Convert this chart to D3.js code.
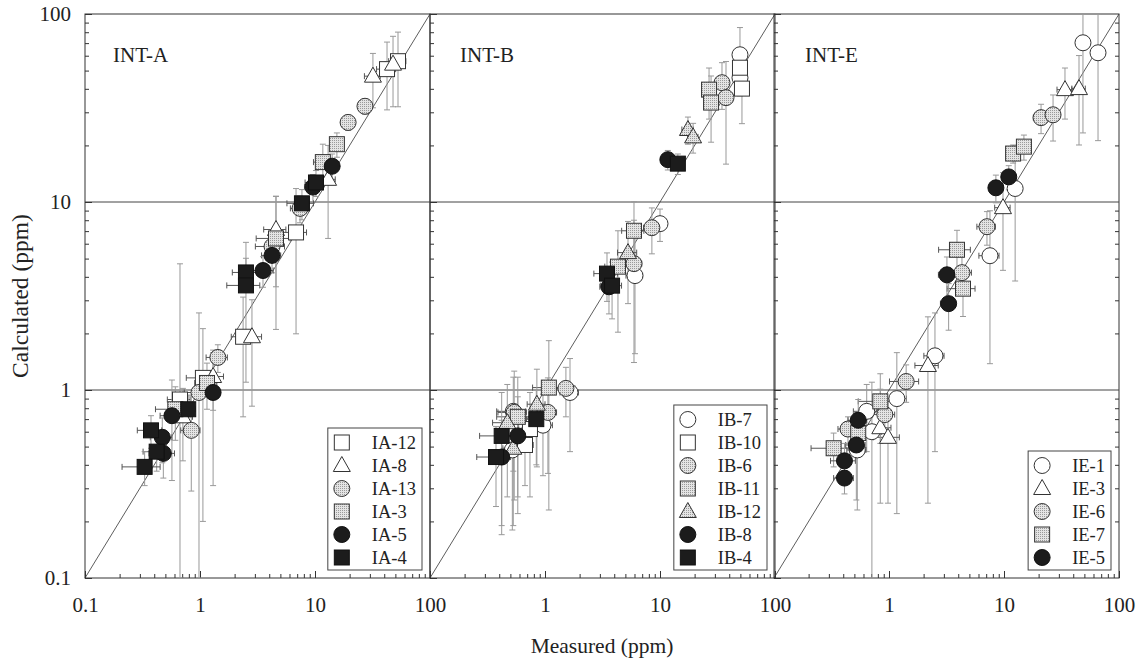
<!DOCTYPE html>
<html>
<head>
<meta charset="utf-8">
<script src="https://cdn.jsdelivr.net/npm/d3@7"></script>
<style>
  body { margin: 0; background: #fff; }
  text { font-family: "Liberation Serif", "Times New Roman", serif; fill: #222; }
</style>
</head>
<body>
<div id="chart"></div>
<script>
// each point: [measured, calculated, measured error (+/-), calculated error (+/-)]
const ia12 = [[42.3, 50.9, 8, 20], [52.7, 56.1, 9, 24], [6.84, 6.89, 1.6, 4.9], [2.37, 1.92, 0.5, 1.2], [1.06, 1.16, 0.3, 0.96], [0.67, 0.89, 0.15, 3.8]];
const ia8 = [[31.9, 46.7, 5, 15], [47.7, 54.1, 7, 22], [13.0, 13.2, 2, 6.8], [4.58, 7.14, 1, 3.6], [2.83, 1.92, 0.6, 1.1], [1.30, 1.18, 0.3, 0.4], [0.71, 0.72, 0.15, 0.3]];
const ia13 = [[27.2, 32.3, 3, 3], [19.4, 26.5, 2.5, 2.5], [7.41, 9.25, 1.3, 1.5], [4.23, 5.8, 1.2, 1], [1.43, 1.49, 0.3, 0.25], [0.98, 0.97, 0.25, 1.6], [0.84, 0.61, 0.16, 0.32]];
const ia3 = [[15.5, 20.3, 2, 3], [11.7, 16.3, 2, 4], [4.58, 6.4, 1.5, 4.3], [1.15, 1.09, 0.25, 0.3], [0.61, 0.79, 0.2, 0.25]];
const ia5 = [[14.1, 15.5, 2, 2.5], [9.6, 12.0, 1.5, 2], [4.23, 5.2, 0.8, 1], [3.53, 4.32, 0.8, 0.8], [1.30, 0.97, 0.2, 0.66], [0.57, 0.73, 0.12, 0.4], [0.47, 0.56, 0.1, 0.15], [0.48, 0.46, 0.12, 0.12]];
const ia4 = [[10.2, 12.7, 2, 2], [7.7, 9.84, 2, 1.8], [2.51, 4.22, 0.6, 0.8], [2.51, 3.6, 0.8, 2.5], [0.79, 0.79, 0.12, 0.15], [0.375, 0.61, 0.09, 0.12], [0.42, 0.47, 0.1, 0.1], [0.33, 0.39, 0.12, 0.08]];

const ib7 = [[49.6, 60.7, 4, 24], [49.6, 45.8, 4, 8], [10.0, 7.67, 1.2, 1.5], [6.06, 4.06, 1, 2.5], [1.65, 0.97, 0.3, 0.5], [0.96, 0.65, 0.2, 0.3], [0.53, 0.77, 0.15, 0.4], [0.52, 0.48, 0.1, 0.3]];
const ib10 = [[49.6, 51.8, 4, 10], [51.6, 40.1, 4, 14], [0.67, 0.51, 0.12, 0.2], [0.74, 0.62, 0.15, 0.35]];
const ib6 = [[34.6, 43.1, 4, 12], [37.5, 35.9, 4, 20], [8.5, 7.3, 1.3, 2], [5.94, 4.7, 1, 3.3], [1.52, 1.02, 0.3, 0.3], [1.06, 0.76, 0.2, 0.4], [0.54, 0.76, 0.15, 0.5]];
const ib11 = [[26.7, 39.6, 3, 12], [27.8, 33.8, 3, 13], [5.94, 7.03, 1.3, 3], [4.31, 4.53, 1, 2.5], [1.08, 1.03, 0.3, 0.8], [0.58, 0.72, 0.2, 0.45]];
const ib12 = [[17.5, 24.3, 2, 4], [19.4, 22.2, 2, 4], [5.27, 5.38, 1, 2.5], [0.85, 0.84, 0.15, 0.45], [0.47, 0.67, 0.12, 0.4], [0.53, 0.49, 0.1, 0.3]];
const ib8 = [[11.7, 16.8, 1, 2], [3.6, 3.54, 0.6, 1], [0.58, 0.57, 0.15, 0.35], [0.42, 0.44, 0.08, 0.25]];
const ib4 = [[14.3, 16.0, 1.5, 2], [3.46, 4.16, 0.8, 1.2], [3.83, 3.59, 0.8, 1.2], [0.84, 0.70, 0.15, 0.3], [0.42, 0.57, 0.15, 0.4], [0.375, 0.44, 0.12, 0.2]];

const ie1 = [[48.6, 70.3, 6, 47], [65.7, 62.2, 8, 41], [12.5, 11.8, 1.5, 8], [7.55, 5.18, 1.5, 3.8], [2.51, 1.52, 0.5, 1.05], [1.17, 0.90, 0.25, 0.68], [0.64, 0.77, 0.15, 0.3], [0.71, 0.60, 0.15, 0.5], [0.53, 0.48, 0.1, 0.25]];
const ie3 = [[33.9, 39.6, 5, 12], [44.9, 40.1, 6, 20], [9.8, 9.33, 1.5, 5], [2.18, 1.35, 0.5, 1.1], [0.84, 0.63, 0.2, 0.38], [0.98, 0.56, 0.25, 0.31]];
const ie6 = [[21.0, 28.1, 3, 5], [26.7, 29.1, 3, 8], [7.11, 7.39, 1.3, 1.5], [4.31, 4.21, 0.9, 1], [1.41, 1.11, 0.4, 0.25], [0.92, 0.74, 0.2, 0.2], [0.44, 0.62, 0.08, 0.1]];
const ie7 = [[12.0, 18.1, 1.5, 2], [14.9, 19.7, 2, 3], [3.9, 5.57, 1.2, 1.5], [4.4, 3.46, 1.2, 1], [0.84, 0.87, 0.3, 0.35], [0.54, 0.59, 0.1, 0.15], [0.33, 0.49, 0.12, 0.1]];
const ie5 = [[8.5, 11.9, 1, 2], [11.0, 13.6, 1.2, 2], [3.19, 4.1, 0.5, 1], [3.3, 2.88, 0.5, 0.8], [0.54, 0.69, 0.1, 0.2], [0.52, 0.51, 0.1, 0.25], [0.41, 0.42, 0.1, 0.1], [0.41, 0.34, 0.08, 0.06]];

const panelTitles = ["INT-A", "INT-B", "INT-E"];
const seriesNames = [
    ["IA-12", "IA-8", "IA-13", "IA-3", "IA-5", "IA-4"],
    ["IB-7", "IB-10", "IB-6", "IB-11", "IB-12", "IB-8", "IB-4"],
    ["IE-1", "IE-3", "IE-6", "IE-7", "IE-5"]
];
const seriesData = [
    [ia12, ia8, ia13, ia3, ia5, ia4],
    [ib7, ib10, ib6, ib11, ib12, ib8, ib4],
    [ie1, ie3, ie6, ie7, ie5]
];
const majorTicks = [0.1, 1, 10, 100];

// marker style per series: shape + fill
const markerStyle = {
    "IA-12": ["square", "white"], "IA-8": ["triangle", "white"], "IA-13": ["circle", "grey"],
    "IA-3": ["square", "grey"], "IA-5": ["circle", "black"], "IA-4": ["square", "black"],
    "IB-7": ["circle", "white"], "IB-10": ["square", "white"], "IB-6": ["circle", "grey"],
    "IB-11": ["square", "grey"], "IB-12": ["triangle", "grey"], "IB-8": ["circle", "black"], "IB-4": ["square", "black"],
    "IE-1": ["circle", "white"], "IE-3": ["triangle", "white"], "IE-6": ["circle", "grey"],
    "IE-7": ["square", "grey"], "IE-5": ["circle", "black"]
};

const width = 1143, height = 662;
const plotTop = 14, plotBottom = 578;
const panelLeft = [85, 430, 774];
const panelW = 345;

const svg = d3.select("#chart").append("svg")
    .attr("width", width)
    .attr("height", height);

const pat = svg.append("defs").append("pattern")
    .attr("id", "stipple")
    .attr("width", 2).attr("height", 2)
    .attr("patternUnits", "userSpaceOnUse");
pat.append("rect").attr("width", 2).attr("height", 2).attr("fill", "#e4e4e4");
pat.append("rect").attr("width", 1).attr("height", 1).attr("fill", "#9a9a9a");

const fills = { white: "#fff", grey: "url(#stipple)", black: "#1c1c1c" };

function drawMarker(g, shape, fill, cx, cy) {
    let m;
    if (shape === "square") {
        m = g.append("rect").attr("x", cx - 7.5).attr("y", cy - 7.5)
            .attr("width", 15).attr("height", 15);
    } else if (shape === "circle") {
        m = g.append("circle").attr("cx", cx).attr("cy", cy).attr("r", 8);
    } else {
        m = g.append("path")
            .attr("d", `M${cx},${cy - 9}L${cx + 8.5},${cy + 6}L${cx - 8.5},${cy + 6}Z`);
    }
    m.attr("fill", fills[fill])
        .attr("stroke", fill === "black" ? "#111" : "#333")
        .attr("stroke-width", 1);
}

const minorTicks = [];
[0.1, 1, 10].forEach(d => { for (let k = 2; k <= 9; k++) minorTicks.push(+(d * k).toPrecision(3)); });

const clampV = v => Math.max(0.1, Math.min(100, v));

panelTitles.forEach((title, i) => {
    const x = d3.scaleLog().domain([0.1, 100]).range([panelLeft[i], panelLeft[i] + panelW]);
    const y = d3.scaleLog().domain([0.1, 100]).range([plotBottom, plotTop]);
    const g = svg.append("g");

    // frame
    g.append("rect")
        .attr("x", x(0.1)).attr("y", y(100))
        .attr("width", x(100) - x(0.1)).attr("height", y(0.1) - y(100))
        .attr("fill", "none").attr("stroke", "#333").attr("stroke-width", 1);

    // reference lines at 1 and 10
    [1, 10].forEach(v => {
        g.append("line")
            .attr("x1", x(0.1)).attr("x2", x(100))
            .attr("y1", y(v)).attr("y2", y(v))
            .attr("stroke", "#444").attr("stroke-width", 1);
    });

    // 1:1 line
    g.append("line")
        .attr("x1", x(0.1)).attr("y1", y(0.1))
        .attr("x2", x(100)).attr("y2", y(100))
        .attr("stroke", "#333").attr("stroke-width", 0.8);

    // ticks
    const axMinorY = g.append("g").attr("transform", `translate(${x(0.1)},0)`)
        .call(d3.axisLeft(y).tickValues(minorTicks).tickSize(-4).tickFormat(""));
    const axMajorY = g.append("g").attr("transform", `translate(${x(0.1)},0)`)
        .call(d3.axisLeft(y).tickValues(majorTicks).tickSize(-7).tickPadding(14)
            .tickFormat(i === 0 ? d3.format("~g") : ""));
    const axMinorX = g.append("g").attr("transform", `translate(0,${plotBottom})`)
        .call(d3.axisBottom(x).tickValues(minorTicks).tickSize(-4).tickFormat(""));
    const axMajorX = g.append("g").attr("transform", `translate(0,${plotBottom})`)
        .call(d3.axisBottom(x).tickValues(i === 0 ? majorTicks : majorTicks.slice(1))
            .tickSize(-7).tickPadding(19).tickFormat(d3.format("~g")));
    const axes = [axMinorY, axMajorY, axMinorX, axMajorX];
    if (i === 2) {
        axes.push(g.append("g").attr("transform", `translate(${x(100)},0)`)
            .call(d3.axisRight(y).tickValues(minorTicks).tickSize(-4).tickFormat("")));
    }
    axes.forEach(a => {
        a.select(".domain").remove();
        a.selectAll("line").attr("stroke", "#333");
        a.selectAll("text")
            .style("font-family", "'Liberation Serif', serif")
            .style("font-size", "21px")
            .attr("fill", "#222");
    });

    g.append("text")
        .attr("x", x(0.1) + (i === 0 ? 28 : (i === 1 ? 30 : 31)))
        .attr("y", 62)
        .style("font-size", "21px")
        .text(title);

    // error bars: horizontal darker, vertical lighter
    const eg = g.append("g").attr("stroke-width", 1);
    seriesData[i].forEach(pts => {
        pts.forEach(([mx, cy, ex, ey]) => {
            const px = x(mx), py = y(cy);
            const xl = x(clampV(mx - ex)), xr = x(clampV(mx + ex));
            const yb = y(clampV(cy - ey)), yt = y(clampV(cy + ey));
            eg.append("line").attr("stroke", "#999")
                .attr("x1", px).attr("x2", px).attr("y1", yb).attr("y2", yt);
            [yb, yt].forEach(yy => eg.append("line").attr("stroke", "#999")
                .attr("x1", px - 3).attr("x2", px + 3).attr("y1", yy).attr("y2", yy));
            eg.append("line").attr("stroke", "#555")
                .attr("x1", xl).attr("x2", xr).attr("y1", py).attr("y2", py);
            [xl, xr].forEach(xx => eg.append("line").attr("stroke", "#555")
                .attr("x1", xx).attr("x2", xx).attr("y1", py - 3).attr("y2", py + 3));
        });
    });

    // markers
    const mg = g.append("g");
    seriesData[i].forEach((pts, s) => {
        const [shape, fill] = markerStyle[seriesNames[i][s]];
        pts.forEach(([mx, cy]) => drawMarker(mg, shape, fill, x(mx), y(cy)));
    });

    // legend
    const names = seriesNames[i];
    const rowH = 23;
    const boxH = names.length * rowH + 4;
    const lg = g.append("g");
    const box = lg.append("rect").attr("fill", "#fff").attr("stroke", "#444").attr("stroke-width", 1);
    const labels = names.map(n => lg.append("text")
        .attr("y", 0).style("font-size", "18.5px").text(n));
    const textW = d3.max(labels, t => t.node().getComputedTextLength());
    const boxW = 44 + textW + 6;
    const bx = x(100) - 8 - boxW, by = plotBottom - 8 - boxH;
    box.attr("x", bx).attr("y", by).attr("width", boxW).attr("height", boxH);
    names.forEach((n, r) => {
        const cy = by + 14.5 + r * rowH;
        const [shape, fill] = markerStyle[n];
        drawMarker(lg, shape, fill, bx + 14, cy);
        labels[r].attr("x", bx + 44).attr("y", cy + 6.5);
    });
});

svg.append("text")
    .attr("transform", `translate(28,296) rotate(-90)`)
    .attr("text-anchor", "middle")
    .style("font-size", "23.5px")
    .text("Calculated (ppm)");

svg.append("text")
    .attr("x", 602)
    .attr("y", 653)
    .attr("text-anchor", "middle")
    .style("font-size", "21.5px")
    .text("Measured (ppm)");
</script>
</body>
</html>
